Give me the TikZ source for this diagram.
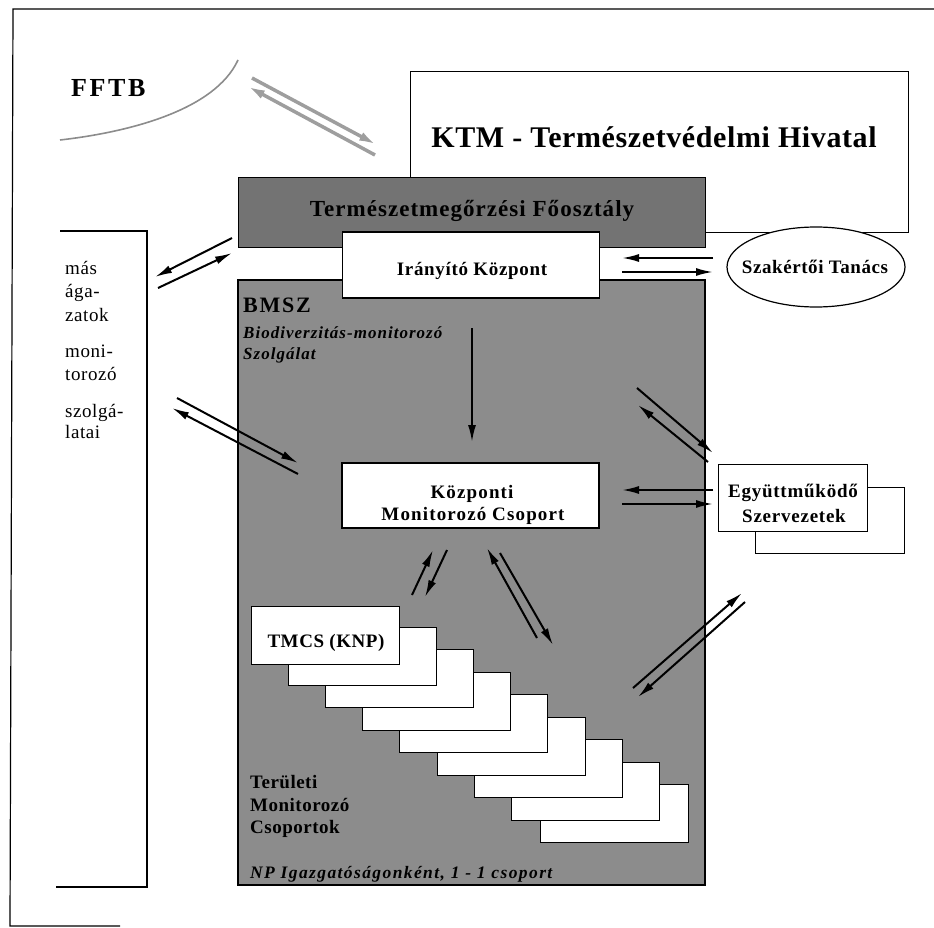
\documentclass[tikz,border=0pt]{standalone}
\usepackage{fontspec}
\setmainfont{Liberation Serif}
\usetikzlibrary{arrows.meta,shapes.geometric}
\newcommand\fsz[2]{\fontsize{#1}{#1}\selectfont\addfontfeature{LetterSpace=#2}}
\begin{document}
\begin{tikzpicture}[x=1pt,y=-1pt,
  box/.style={draw=black,line width=1.2pt,fill=white,inner sep=0pt},
  stackbox/.style={box,minimum width=148,minimum height=58,anchor=north west},
  arr/.style={line width=2pt,-{Latex[length=17pt,width=8pt]}},
  garr/.style={draw=black!38,line width=3.5pt,-{Latex[length=18pt,width=9pt]},color=black!38},
  lbl/.style={anchor=base,inner sep=0pt},
  lblw/.style={anchor=base west,inner sep=0pt}]
\useasboundingbox (0,0) rectangle (934,928);
% outer frame
\draw[line width=1.2pt] (934,9) -- (13,9) -- (10,926) -- (120,926);
% FFTB
\node[lblw,font=\bfseries\fsz{26}{10}] (fftb) at (71,97) {FFTB};
\draw[black!45,line width=1.6pt] (60,140) .. controls (130,132) and (215,110) .. (238,60);
% gray arrows FFTB <-> KTM
\coordinate (i1s) at (252,78);  \coordinate (i1e) at (377,145);
\coordinate (i2s) at (375,155); \coordinate (i2e) at (247,86);
\draw[garr] (i1s) -- (i1e);
\draw[garr] (i2s) -- (i2e);
% KTM box
\node[box,line width=1pt,minimum width=498,minimum height=160] (ktm) at (659,152) {};
\node[lbl,font=\bfseries\fsz{30}{2}] (ktmt) at (654,148) {KTM - Természetvédelmi Hivatal};
% Főosztály
\node[draw=black,line width=1pt,fill=black!55,inner sep=0pt,minimum width=467,minimum height=69] (fo) at (471.5,212.5) {};
\node[lbl,font=\bfseries\fsz{23}{4.5}] (fot) at (472,217) {Természetmegőrzési Főosztály};
% BMSZ
\node[draw=black,line width=1.2pt,fill=black!45,inner sep=0pt,minimum width=467,minimum height=605] (bmsz) at (471.5,582.5) {};
\node[lblw,font=\bfseries\fsz{22}{8}] (bmszt) at (243,312) {BMSZ};
\node[lblw,font=\bfseries\itshape\fsz{17}{6}] (bio1) at (243,338) {Biodiverzitás-monitorozó};
\node[lblw,font=\bfseries\itshape\fsz{17}{6}] (bio2) at (243,359) {Szolgálat};
% Irányító Központ
\node[box,minimum width=257,minimum height=66] (ir) at (471,265) {};
\node[lbl,font=\bfseries\fsz{19}{3.5}] (irt) at (472,275) {Irányító Központ};
% Szakértői Tanács
\node[ellipse,box,minimum width=178,minimum height=80] (szak) at (816,267) {};
\node[lbl,font=\bfseries\fsz{19}{3}] (szakt) at (815,273) {Szakértői Tanács};
% left box
\draw[line width=1.2pt] (60,231) -- (147,231) -- (147,887) -- (56,887);
\node[lblw,font=\fsz{19}{3}] (m1) at (65,274) {más};
\node[lblw,font=\fsz{19}{3}] (m2) at (65,297) {ága-};
\node[lblw,font=\fsz{19}{3}] (m3) at (65,321) {zatok};
\node[lblw,font=\fsz{19}{3}] (m4) at (65,357) {moni-};
\node[lblw,font=\fsz{19}{3}] (m5) at (65,380) {torozó};
\node[lblw,font=\fsz{19}{3}] (m6) at (65,417) {szolgá-};
\node[lblw,font=\fsz{19}{3}] (m7) at (65,438) {latai};
% Központi Monitorozó Csoport
\node[box,minimum width=257,minimum height=65] (kozp) at (470.5,495.5) {};
\node[lbl,font=\bfseries\fsz{19}{6}] (kozp1) at (472,498) {Központi};
\node[lbl,font=\bfseries\fsz{19}{6}] (kozp2) at (473,520) {Monitorozó Csoport};
% stacked TMCS boxes
\foreach \i/\l/\t in {9/540/784,8/511/762,7/474/739,6/437/717,5/399/694,4/362/672,3/325/649,2/288/627,1/251/606}
  \node[stackbox] (s\i) at (\l,\t) {};
\node[lbl,font=\bfseries\fsz{19}{3}] (tmcs) at (326,647) {TMCS (KNP)};
\node[lblw,font=\bfseries\fsz{19}{2.6}] (t1) at (250,788) {Területi};
\node[lblw,font=\bfseries\fsz{19}{2.6}] (t2) at (250,811) {Monitorozó};
\node[lblw,font=\bfseries\fsz{19}{2.6}] (t3) at (250,833) {Csoportok};
\node[lblw,font=\bfseries\itshape\fsz{17.5}{8}] (np) at (250,878) {NP Igazgatóságonként, 1 - 1 csoport};
% Együttműködő Szervezetek
\node[box,minimum width=149,minimum height=66,anchor=north west] (egyb) at (755,487) {};
\node[box,minimum width=149,minimum height=67,anchor=north west] (egy) at (718,464) {};
\node[lbl,font=\bfseries\fsz{19}{4}] (egy1) at (793,497) {Együttműködő};
\node[lbl,font=\bfseries\fsz{19}{4}] (egy2) at (794,522) {Szervezetek};
% arrows
\coordinate (a1s) at (232,238); \coordinate (a1e) at (155,277);
\coordinate (a2s) at (158,288); \coordinate (a2e) at (232,253);
\coordinate (b1s) at (177,398); \coordinate (b1e) at (298,463);
\coordinate (b2s) at (298,474); \coordinate (b2e) at (172,408);
\coordinate (c1s) at (713,258); \coordinate (c1e) at (622,258);
\coordinate (c2s) at (622,272); \coordinate (c2e) at (713,272);
\coordinate (vs) at (472,328);  \coordinate (ve) at (472,442);
\coordinate (d1s) at (713,490); \coordinate (d1e) at (622,490);
\coordinate (d2s) at (622,504); \coordinate (d2e) at (713,504);
\coordinate (e1s) at (637,388); \coordinate (e1e) at (713,453);
\coordinate (e2s) at (708,462); \coordinate (e2e) at (638,405);
\coordinate (f1s) at (412,595); \coordinate (f1e) at (433,550);
\coordinate (f2s) at (447,550); \coordinate (f2e) at (425,597);
\coordinate (g1s) at (537,638); \coordinate (g1e) at (487,548);
\coordinate (g2s) at (500,553); \coordinate (g2e) at (553,645);
\coordinate (h1s) at (633,688); \coordinate (h1e) at (742,593);
\coordinate (h2s) at (745,602); \coordinate (h2e) at (638,697);
\foreach \p in {a1,a2,b1,b2,c1,c2,d1,d2,e1,e2,f1,f2,g1,g2,h1,h2}
  \draw[arr] (\p s) -- (\p e);
\draw[arr] (vs) -- (ve);
\end{tikzpicture}
\end{document}
